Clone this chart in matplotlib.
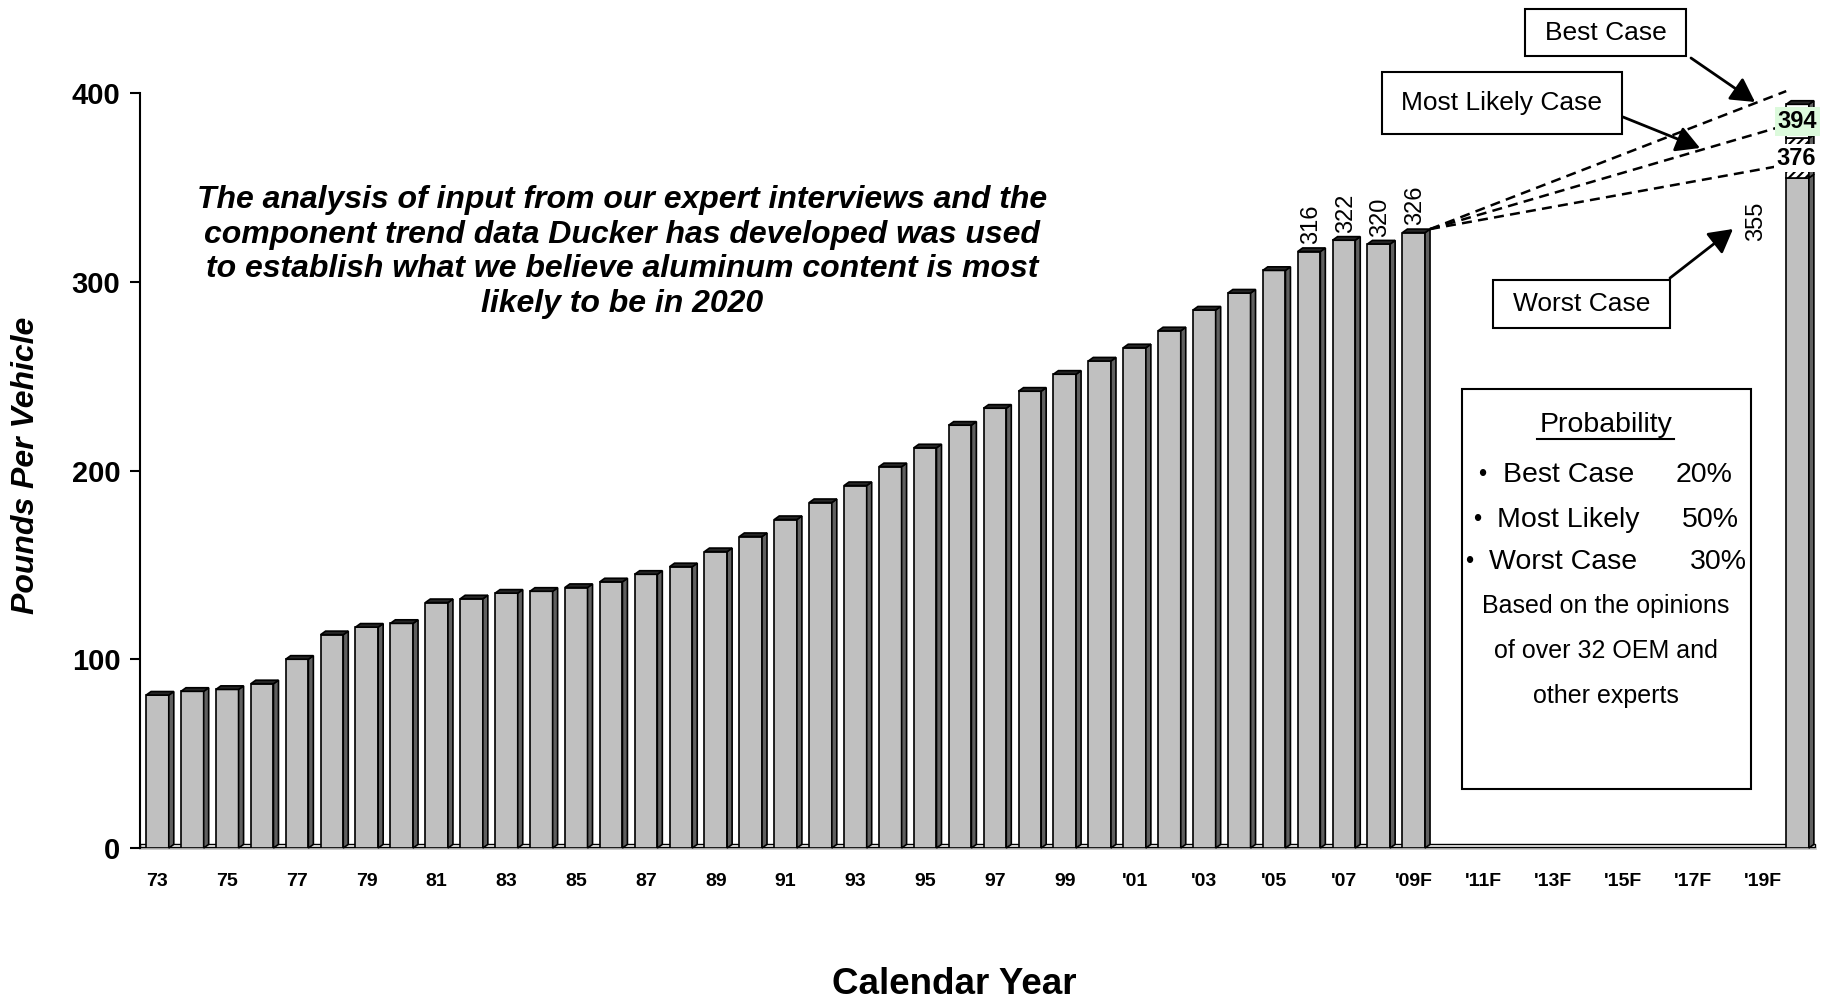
import matplotlib
matplotlib.use('Agg')
import matplotlib.pyplot as plt
from matplotlib.patches import Polygon, Rectangle
from matplotlib.lines import Line2D

plt.rcParams['font.family'] = ['Liberation Sans', 'DejaVu Sans']
plt.rcParams['hatch.linewidth'] = 1.5

# ---------------- data ----------------
years = list(range(1973, 2021))
hist_years = list(range(1973, 2010))
hist_values = [81, 83, 84, 87, 100, 113, 117, 119, 130, 132, 135, 136, 138, 141,
               145, 149, 157, 165, 174, 183, 192, 202, 212, 224, 233, 242, 251,
               258, 265, 274, 285, 294, 306, 316, 322, 320, 326]
labeled_years = [2006, 2007, 2008, 2009]
forecast_year = 2020
worst_case = 355
most_likely = 376
best_case = 394
tick_labels = ['73', '75', '77', '79', '81', '83', '85', '87', '89', '91', '93',
               '95', '97', '99', "'01", "'03", "'05", "'07", "'09F", "'11F",
               "'13F", "'15F", "'17F", "'19F"]
y_ticks = [0, 100, 200, 300, 400]
prob_cases = ['Best Case', 'Most Likely', 'Worst Case']
prob_values = ['20%', '50%', '30%']
note_text = ("The analysis of input from our expert interviews and the\n"
             "component trend data Ducker has developed was used\n"
             "to establish what we believe aluminum content is most\n"
             "likely to be in 2020")

# ---------------- figure ----------------
W, H = 1824, 1001
fig = plt.figure(figsize=(W / 100, H / 100), dpi=100)


def fx(px):
    return px / W


def fy(py):
    return 1 - py / H


ax = fig.add_axes([fx(140), fy(848), fx(1815) - fx(140), fy(93) - fy(848)])
ax.set_xlim(-0.5, len(years) - 0.5)
ax.set_ylim(0, 400)

BW = 0.65      # front width
DX = 0.143     # depth in x (category units)
DY = 1.9       # depth in y (data units)
LW = 1.2
FRONT = '#c0c0c0'
SIDE = '#606060'
TOPC = '#262626'

# floor strip
ax.add_patch(Rectangle((-0.5, 0.4), len(years), DY, facecolor='white',
                       edgecolor='black', lw=1.0, zorder=1, clip_on=False))


def side_and_top(xc, y0, y1, top=True):
    x1 = xc + BW / 2
    x0 = xc - BW / 2
    ax.add_patch(Polygon([(x1, y0), (x1 + DX, y0 + DY), (x1 + DX, y1 + DY), (x1, y1)],
                         closed=True, facecolor=SIDE, edgecolor='black', lw=LW,
                         zorder=3, clip_on=False))
    if top:
        ax.add_patch(Polygon([(x0, y1), (x1, y1), (x1 + DX, y1 + DY), (x0 + DX, y1 + DY)],
                             closed=True, facecolor=TOPC, edgecolor='black', lw=LW,
                             zorder=3, clip_on=False))


idx_hist = [years.index(y) for y in hist_years]
ax.bar(idx_hist, hist_values, width=BW, color=FRONT, edgecolor='black', lw=LW, zorder=2)
for i, v in zip(idx_hist, hist_values):
    side_and_top(i, 0, v)

for y in labeled_years:
    i = years.index(y)
    v = hist_values[hist_years.index(y)]
    ax.text(i + 0.05, v + DY + 2, str(v), rotation=90, ha='center', va='bottom',
            fontsize=17, zorder=5)

# forecast stacked bar
fi = years.index(forecast_year)
ax.bar(fi, worst_case, width=BW, color=FRONT, edgecolor='black', lw=LW, zorder=2)
side_and_top(fi, 0, worst_case, top=False)
ax.bar(fi, most_likely - worst_case, bottom=worst_case, width=BW, color='white',
       edgecolor='black', hatch='////', lw=LW, zorder=2)
side_and_top(fi, worst_case, most_likely, top=False)
ax.bar(fi, best_case - most_likely, bottom=most_likely, width=BW, color='white',
       edgecolor='black', lw=LW, zorder=2, clip_on=False)
side_and_top(fi, most_likely, best_case, top=True)

# dashed projection lines
last_i = years.index(hist_years[-1])
x_start = last_i + BW / 2 + DX
y_start = hist_values[-1] + DY
for v in [best_case, most_likely, worst_case]:
    ax.plot([x_start, fi - BW / 2], [y_start, v + 7], ls=(0, (4, 2.5)), color='black',
            lw=1.8, zorder=4, clip_on=False)

ax.text(fi, (most_likely + best_case) / 2, str(best_case), ha='center', va='center',
        fontsize=17, fontweight='bold', zorder=6,
        bbox=dict(boxstyle='square,pad=0.12', facecolor='#dcfadc', edgecolor='none'))
ax.text(fi - 0.05, (worst_case + most_likely) / 2, str(most_likely), ha='center',
        va='center', fontsize=17, fontweight='bold', zorder=6,
        bbox=dict(boxstyle='square,pad=0.1', facecolor='white', edgecolor='none'))
ax.text(fi - 1.2, worst_case - 23, str(worst_case), rotation=90, ha='center',
        va='center', fontsize=17, zorder=6)

# axes styling
for s in ['top', 'right']:
    ax.spines[s].set_visible(False)
ax.spines['left'].set_linewidth(1.5)
ax.spines['bottom'].set_color('#c8c8c8')
ax.spines['bottom'].set_linewidth(2)
ax.spines['bottom'].set_zorder(0)
ax.set_yticks(y_ticks)
ax.set_yticklabels([str(t) for t in y_ticks], fontsize=21, fontweight='bold')
ax.tick_params(axis='y', direction='out', length=7.2, width=1.5, pad=7)
ax.set_xticks(range(0, len(years) - 1, 2))
ax.set_xticklabels(tick_labels, fontsize=14, fontweight='bold')
ax.tick_params(axis='x', length=0, pad=18)

fig.text(fx(26), fy(465), 'Pounds Per Vehicle', rotation=90, ha='center', va='center',
         fontsize=23, fontweight='bold', fontstyle='italic')
fig.text(fx(954), fy(985), 'Calendar Year', ha='center', va='center',
         fontsize=26.5, fontweight='bold')

fig.text(fx(622), fy(252), note_text, ha='center', va='center', multialignment='center',
         fontsize=23, fontweight='bold', fontstyle='italic', linespacing=1.2)


# callout boxes
def callout(label, box, tail, tip):
    l, t, r, b = box
    fig.add_artist(Rectangle((fx(l), fy(b)), fx(r) - fx(l), fy(t) - fy(b),
                             transform=fig.transFigure, facecolor='white',
                             edgecolor='black', lw=1.5, zorder=10))
    fig.text(fx((l + r) / 2), fy((t + b) / 2), label, ha='center', va='center',
             fontsize=19, zorder=11)
    fig.add_artist(matplotlib.patches.FancyArrowPatch(
        (fx(tail[0]), fy(tail[1])), (fx(tip[0]), fy(tip[1])),
        transform=fig.transFigure, arrowstyle='-|>,head_length=9,head_width=5',
        color='black', lw=2, zorder=11, shrinkA=0, shrinkB=0, mutation_scale=1.6))


callout('Best Case', (1525, 9, 1686, 56), (1691, 58), (1755, 102))
callout('Most Likely Case', (1382, 72, 1622, 134), (1623, 117), (1700, 148))
callout('Worst Case', (1493, 280, 1670, 328), (1670, 278), (1733, 229))

# probability box
fig.add_artist(Rectangle((fx(1462), fy(789)), fx(1751) - fx(1462), fy(389) - fy(789),
                         transform=fig.transFigure, facecolor='white',
                         edgecolor='black', lw=1.5, zorder=10))
fig.text(fx(1606), fy(425), 'Probability', ha='center', va='center', fontsize=20.5, zorder=11)
fig.add_artist(Line2D([fx(1537), fx(1674)], [fy(439), fy(439)], transform=fig.transFigure,
                      color='black', lw=1.5, zorder=11))
bullet_x = [1482, 1477, 1469]
name_x = [1503, 1497, 1489]
pct_x = [1733, 1739, 1747]
row_y = [475, 520, 562]
for bx, nx, px, ry, name, pct in zip(bullet_x, name_x, pct_x, row_y, prob_cases, prob_values):
    fig.text(fx(bx), fy(ry), '•', ha='center', va='center', fontsize=17, zorder=11)
    fig.text(fx(nx), fy(ry), name, ha='left', va='center', fontsize=20.5, zorder=11)
    fig.text(fx(px), fy(ry), pct, ha='right', va='center', fontsize=20.5, zorder=11)
for ty, line in zip([606, 651, 696], ['Based on the opinions', 'of over 32 OEM and',
                                      'other experts']):
    fig.text(fx(1606), fy(ty), line, ha='center', va='center', fontsize=18, zorder=11)

fig.savefig('out.png', dpi=100)
